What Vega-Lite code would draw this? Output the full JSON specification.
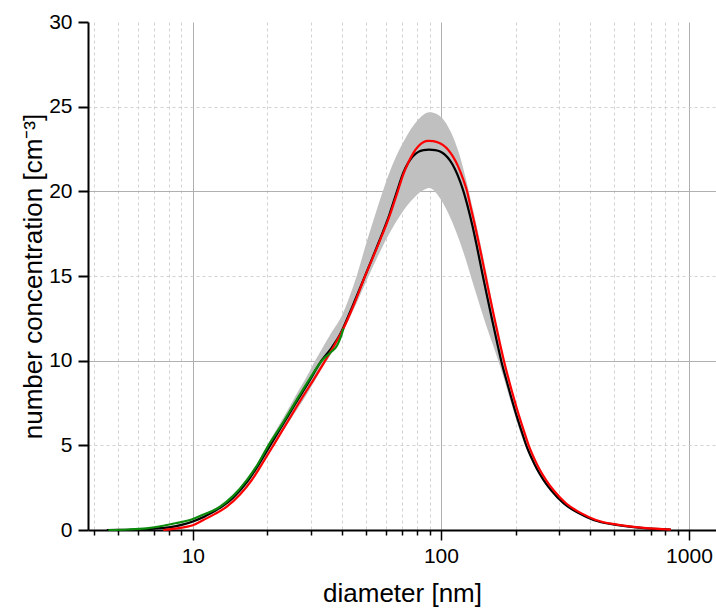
{
  "$schema": "https://vega.github.io/schema/vega-lite/v6.json",
  "width": 628,
  "height": 508,
  "autosize": "none",
  "padding": {"left": 88, "top": 22, "right": 0, "bottom": 78},
  "background": "white",
  "config": {
    "view": {"stroke": null},
    "font": "Liberation Sans",
    "axis": {"labelFont": "Liberation Sans", "titleFont": "Liberation Sans", "labelColor": "black", "titleColor": "black", "titleFontWeight": "normal", "domainColor": "black", "domainWidth": 2, "tickColor": "black"}
  },
  "datasets": {
    "band": [
      {"d": 4.5, "lo": 0, "hi": 0.02}, {"d": 6, "lo": 0.01, "hi": 0.06}, {"d": 8, "lo": 0.09, "hi": 0.22},
      {"d": 10, "lo": 0.42, "hi": 0.58}, {"d": 12, "lo": 0.95, "hi": 1.18}, {"d": 14.5, "lo": 1.75, "hi": 2.08},
      {"d": 16.75, "lo": 2.7, "hi": 3.15}, {"d": 18.5, "lo": 3.6, "hi": 4.15}, {"d": 20.5, "lo": 4.65, "hi": 5.3},
      {"d": 23, "lo": 5.8, "hi": 6.55}, {"d": 26, "lo": 7.0, "hi": 7.95}, {"d": 29.5, "lo": 8.25, "hi": 9.35},
      {"d": 31.1, "lo": 8.85, "hi": 10.0}, {"d": 33, "lo": 9.5, "hi": 10.65}, {"d": 34.7, "lo": 10.0, "hi": 11.2},
      {"d": 36, "lo": 10.35, "hi": 11.6}, {"d": 40, "lo": 11.63, "hi": 12.7}, {"d": 45, "lo": 13.17, "hi": 14.67},
      {"d": 50.3, "lo": 14.77, "hi": 17.05}, {"d": 55.5, "lo": 16.12, "hi": 19.05}, {"d": 59.4, "lo": 17.01, "hi": 20.35},
      {"d": 63.7, "lo": 17.82, "hi": 21.54}, {"d": 68.2, "lo": 18.53, "hi": 22.5}, {"d": 73, "lo": 19.15, "hi": 23.3},
      {"d": 78.3, "lo": 19.65, "hi": 23.97}, {"d": 83.8, "lo": 20.02, "hi": 24.45}, {"d": 90, "lo": 20.2, "hi": 24.67},
      {"d": 96.1, "lo": 19.87, "hi": 24.56}, {"d": 103, "lo": 19.19, "hi": 24.19}, {"d": 110.4, "lo": 18.28, "hi": 23.42},
      {"d": 118.3, "lo": 17.15, "hi": 22.25}, {"d": 126.8, "lo": 15.84, "hi": 20.59}, {"d": 133.4, "lo": 14.77, "hi": 19.2},
      {"d": 140, "lo": 13.78, "hi": 17.84}, {"d": 147.7, "lo": 12.68, "hi": 16.2}, {"d": 153, "lo": 11.99, "hi": 15.1},
      {"d": 165, "lo": 10.6, "hi": 12.6}, {"d": 172, "lo": 9.8, "hi": 11.27}, {"d": 179, "lo": 9.0, "hi": 10.0},
      {"d": 190, "lo": 7.7, "hi": 8.5}, {"d": 200, "lo": 6.65, "hi": 7.35}, {"d": 212, "lo": 5.5, "hi": 6.1},
      {"d": 225, "lo": 4.55, "hi": 5.05}, {"d": 240, "lo": 3.68, "hi": 4.0}, {"d": 259, "lo": 2.85, "hi": 3.1},
      {"d": 280, "lo": 2.2, "hi": 2.42}, {"d": 312, "lo": 1.5, "hi": 1.66}, {"d": 360, "lo": 0.94, "hi": 1.06},
      {"d": 412, "lo": 0.55, "hi": 0.63}, {"d": 512, "lo": 0.27, "hi": 0.32}, {"d": 650, "lo": 0.07, "hi": 0.1},
      {"d": 845, "lo": 0.0, "hi": 0.02}
    ],
    "lines": [
      {"s": "mean", "d": 4.5, "v": 0}, {"s": "mean", "d": 5, "v": 0.01}, {"s": "mean", "d": 6, "v": 0.03},
      {"s": "mean", "d": 7, "v": 0.08}, {"s": "mean", "d": 8, "v": 0.15}, {"s": "mean", "d": 9, "v": 0.3},
      {"s": "mean", "d": 10, "v": 0.5}, {"s": "mean", "d": 11, "v": 0.75}, {"s": "mean", "d": 12, "v": 1.05},
      {"s": "mean", "d": 13.09, "v": 1.38}, {"s": "mean", "d": 14.5, "v": 1.9}, {"s": "mean", "d": 16.75, "v": 2.95},
      {"s": "mean", "d": 18.5, "v": 3.9}, {"s": "mean", "d": 20.5, "v": 5.0}, {"s": "mean", "d": 23, "v": 6.2},
      {"s": "mean", "d": 26, "v": 7.5}, {"s": "mean", "d": 29.5, "v": 8.8}, {"s": "mean", "d": 33, "v": 10.0},
      {"s": "mean", "d": 36, "v": 10.7}, {"s": "mean", "d": 39, "v": 11.48}, {"s": "mean", "d": 44, "v": 13.21},
      {"s": "mean", "d": 49.5, "v": 15.02}, {"s": "mean", "d": 56, "v": 16.95}, {"s": "mean", "d": 62, "v": 18.63},
      {"s": "mean", "d": 66.5, "v": 20.0}, {"s": "mean", "d": 70.6, "v": 21.12}, {"s": "mean", "d": 74, "v": 21.71},
      {"s": "mean", "d": 77.5, "v": 22.1}, {"s": "mean", "d": 81.1, "v": 22.33}, {"s": "mean", "d": 85, "v": 22.43},
      {"s": "mean", "d": 89.5, "v": 22.46}, {"s": "mean", "d": 94.8, "v": 22.43}, {"s": "mean", "d": 99.3, "v": 22.35},
      {"s": "mean", "d": 104, "v": 22.15}, {"s": "mean", "d": 108.9, "v": 21.81}, {"s": "mean", "d": 114, "v": 21.31},
      {"s": "mean", "d": 119.4, "v": 20.61}, {"s": "mean", "d": 123.3, "v": 20.0}, {"s": "mean", "d": 127.9, "v": 19.17},
      {"s": "mean", "d": 134, "v": 17.97}, {"s": "mean", "d": 140.3, "v": 16.6}, {"s": "mean", "d": 147.6, "v": 15.0},
      {"s": "mean", "d": 153.8, "v": 13.75}, {"s": "mean", "d": 161.1, "v": 12.37}, {"s": "mean", "d": 168.7, "v": 11.03},
      {"s": "mean", "d": 175, "v": 10.0}, {"s": "mean", "d": 184.9, "v": 8.7}, {"s": "mean", "d": 193.6, "v": 7.65},
      {"s": "mean", "d": 202.8, "v": 6.65}, {"s": "mean", "d": 212.3, "v": 5.75}, {"s": "mean", "d": 220.8, "v": 5.0},
      {"s": "mean", "d": 232.8, "v": 4.2}, {"s": "mean", "d": 243.8, "v": 3.6}, {"s": "mean", "d": 259.4, "v": 2.95},
      {"s": "mean", "d": 279.9, "v": 2.3}, {"s": "mean", "d": 312, "v": 1.58}, {"s": "mean", "d": 360.6, "v": 0.98},
      {"s": "mean", "d": 412.1, "v": 0.59}, {"s": "mean", "d": 509.3, "v": 0.3}, {"s": "mean", "d": 641.2, "v": 0.12},
      {"s": "mean", "d": 845.3, "v": 0.02},

      {"s": "red", "d": 7.6, "v": 0.0}, {"s": "red", "d": 8.5, "v": 0.08}, {"s": "red", "d": 9.5, "v": 0.2},
      {"s": "red", "d": 10, "v": 0.28}, {"s": "red", "d": 11.03, "v": 0.59}, {"s": "red", "d": 12.3, "v": 0.95},
      {"s": "red", "d": 13.71, "v": 1.38}, {"s": "red", "d": 15.5, "v": 2.1}, {"s": "red", "d": 17.29, "v": 2.95},
      {"s": "red", "d": 19.2, "v": 4.0}, {"s": "red", "d": 21.13, "v": 5.0}, {"s": "red", "d": 24, "v": 6.35},
      {"s": "red", "d": 27.5, "v": 7.78}, {"s": "red", "d": 31, "v": 8.98}, {"s": "red", "d": 34.17, "v": 10.0},
      {"s": "red", "d": 37, "v": 10.85}, {"s": "red", "d": 40, "v": 11.75}, {"s": "red", "d": 45, "v": 13.45},
      {"s": "red", "d": 49.5, "v": 15.0}, {"s": "red", "d": 56, "v": 16.88}, {"s": "red", "d": 62, "v": 18.52},
      {"s": "red", "d": 67, "v": 20.0}, {"s": "red", "d": 70.6, "v": 21.01}, {"s": "red", "d": 74, "v": 21.72},
      {"s": "red", "d": 77.5, "v": 22.27}, {"s": "red", "d": 81.1, "v": 22.66}, {"s": "red", "d": 84.9, "v": 22.9},
      {"s": "red", "d": 88.9, "v": 22.98}, {"s": "red", "d": 93.1, "v": 22.97}, {"s": "red", "d": 97.5, "v": 22.89},
      {"s": "red", "d": 102.1, "v": 22.73}, {"s": "red", "d": 106.9, "v": 22.46}, {"s": "red", "d": 111.9, "v": 22.05},
      {"s": "red", "d": 117.2, "v": 21.49}, {"s": "red", "d": 122.7, "v": 20.75}, {"s": "red", "d": 127.5, "v": 20.0},
      {"s": "red", "d": 130.9, "v": 19.27}, {"s": "red", "d": 137, "v": 18.03}, {"s": "red", "d": 143.5, "v": 16.67},
      {"s": "red", "d": 151.4, "v": 15.0}, {"s": "red", "d": 157.9, "v": 13.7}, {"s": "red", "d": 165.3, "v": 12.35},
      {"s": "red", "d": 173.1, "v": 11.0}, {"s": "red", "d": 178.8, "v": 10.1}, {"s": "red", "d": 189.2, "v": 8.7},
      {"s": "red", "d": 198.1, "v": 7.65}, {"s": "red", "d": 207.5, "v": 6.65}, {"s": "red", "d": 217.2, "v": 5.75},
      {"s": "red", "d": 225.9, "v": 5.0}, {"s": "red", "d": 238.2, "v": 4.2}, {"s": "red", "d": 249.4, "v": 3.6},
      {"s": "red", "d": 265.4, "v": 2.95}, {"s": "red", "d": 286.3, "v": 2.3}, {"s": "red", "d": 319.2, "v": 1.58},
      {"s": "red", "d": 368.9, "v": 0.98}, {"s": "red", "d": 421.6, "v": 0.59}, {"s": "red", "d": 521, "v": 0.3},
      {"s": "red", "d": 656, "v": 0.12}, {"s": "red", "d": 845, "v": 0.02},

      {"s": "green", "d": 4.57, "v": 0.0}, {"s": "green", "d": 5.5, "v": 0.03}, {"s": "green", "d": 6.5, "v": 0.1},
      {"s": "green", "d": 7.6, "v": 0.25}, {"s": "green", "d": 8.5, "v": 0.4}, {"s": "green", "d": 9.75, "v": 0.59},
      {"s": "green", "d": 11, "v": 0.9}, {"s": "green", "d": 12.89, "v": 1.38}, {"s": "green", "d": 14.5, "v": 2.0},
      {"s": "green", "d": 16.5, "v": 2.95}, {"s": "green", "d": 18.3, "v": 3.9}, {"s": "green", "d": 20.18, "v": 5.0},
      {"s": "green", "d": 23, "v": 6.3}, {"s": "green", "d": 26, "v": 7.6}, {"s": "green", "d": 29.5, "v": 8.9},
      {"s": "green", "d": 33.1, "v": 10.0}, {"s": "green", "d": 36, "v": 10.5}, {"s": "green", "d": 38, "v": 10.85},
      {"s": "green", "d": 39.5, "v": 11.4}, {"s": "green", "d": 40.5, "v": 11.9}
    ]
  },
  "encoding": {
    "x": {
      "field": "d", "type": "quantitative",
      "scale": {"type": "log", "domain": [3.78, 1285], "nice": false},
      "axis": {
        "title": "diameter [nm]",
        "titleFontSize": 26,
        "titlePadding": 14,
        "labelFontSize": 21,
        "labelPadding": 5,
        "labelOverlap": false,
        "labelFlush": false,
        "labelBound": false,
        "values": [4,5,6,7,8,9,10,20,30,40,50,60,70,80,90,100,200,300,400,500,600,700,800,900,1000],
        "labelExpr": "(datum.value == 10 || datum.value == 100 || datum.value == 1000) ? format(datum.value, 'd') : ''",
        "tickSize": {"condition": {"test": "datum.value == 10 || datum.value == 100 || datum.value == 1000", "value": 10}, "value": 5},
        "tickWidth": 1.5,
        "grid": true,
        "gridColor": {"condition": {"test": "datum.value == 10 || datum.value == 100 || datum.value == 1000", "value": "#b0b0b0"}, "value": "#d2d2d2"},
        "gridDash": {"condition": {"test": "datum.value == 10 || datum.value == 100 || datum.value == 1000", "value": []}, "value": [3, 3]},
        "gridWidth": 1
      }
    },
    "y": {
      "type": "quantitative",
      "scale": {"domain": [0, 30], "nice": false, "zero": true},
      "axis": {
        "title": "number concentration [cm⁻³]",
        "titleFontSize": 26,
        "titlePadding": 2,
        "labelFontSize": 21,
        "labelPadding": 6,
        "values": [0, 5, 10, 15, 20, 25, 30],
        "tickSize": 10,
        "tickWidth": 2,
        "grid": true,
        "gridColor": {"condition": {"test": "datum.value % 10 == 0", "value": "#b0b0b0"}, "value": "#d2d2d2"},
        "gridDash": {"condition": {"test": "datum.value % 10 == 0", "value": []}, "value": [3, 3]},
        "gridOpacity": {"condition": {"test": "datum.value == 30 || datum.value == 0", "value": 0}, "value": 1},
        "gridWidth": 1
      }
    }
  },
  "layer": [
    {
      "data": {"name": "band"},
      "mark": {"type": "area", "color": "#c0c0c0", "opacity": 1, "interpolate": "monotone"},
      "encoding": {"y": {"field": "lo", "type": "quantitative"}, "y2": {"field": "hi"}}
    },
    {
      "data": {"name": "lines"},
      "transform": [{"filter": "datum.s == 'mean'"}],
      "mark": {"type": "line", "color": "black", "strokeWidth": 2.2, "interpolate": "monotone"},
      "encoding": {"y": {"field": "v", "type": "quantitative"}}
    },
    {
      "data": {"name": "lines"},
      "transform": [{"filter": "datum.s == 'red'"}],
      "mark": {"type": "line", "color": "#ff0000", "strokeWidth": 2.2, "interpolate": "monotone"},
      "encoding": {"y": {"field": "v", "type": "quantitative"}}
    },
    {
      "data": {"name": "lines"},
      "transform": [{"filter": "datum.s == 'green'"}],
      "mark": {"type": "line", "color": "#0b8a0b", "strokeWidth": 2.2, "interpolate": "monotone"},
      "encoding": {"y": {"field": "v", "type": "quantitative"}}
    }
  ]
}
